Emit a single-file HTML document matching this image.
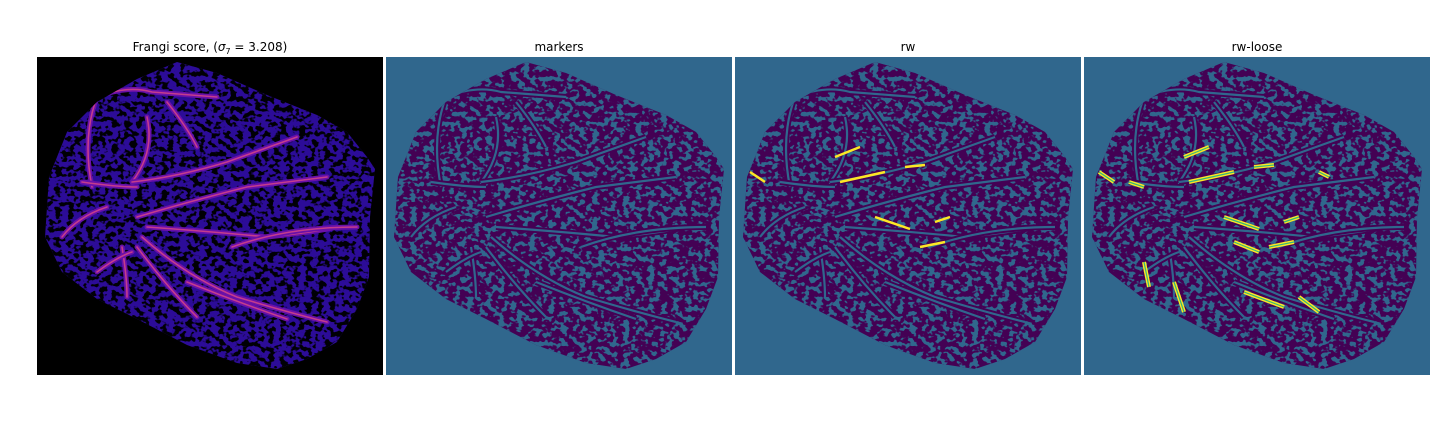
<!DOCTYPE html>
<html><head><meta charset="utf-8"><style>
html,body{margin:0;padding:0;background:#fff;width:1440px;height:432px;overflow:hidden}
svg{display:block;font-family:"DejaVu Sans","Liberation Sans",sans-serif}
</style></head><body>
<svg id="fig" width="1440" height="432" viewBox="0 0 1440 432" xmlns="http://www.w3.org/2000/svg">
<defs>
<filter id="spotsBlack" x="0" y="0" width="100%" height="100%" color-interpolation-filters="sRGB">
<feTurbulence type="fractalNoise" baseFrequency="0.16 0.2" numOctaves="2" seed="3" result="n"/>
<feColorMatrix in="n" type="matrix" values="0 0 0 0 0  0 0 0 0 0  0 0 0 0 0.02  12 0 0 0 -5.9"/>
</filter>
<filter id="spotsTeal" x="0" y="0" width="100%" height="100%" color-interpolation-filters="sRGB">
<feTurbulence type="fractalNoise" baseFrequency="0.16 0.2" numOctaves="2" seed="3" result="n"/>
<feColorMatrix in="n" type="matrix" values="0 0 0 0 0.19  0 0 0 0 0.404  0 0 0 0 0.553  -14 0 0 0 6.9"/>
</filter>
<clipPath id="blob"><path id="blobPath" d="M8,180 L12,120 L30,75 L60,45 L100,22 L140,5 L180,16 L230,38 L280,58 L310,75 L330,100 L338,112 L333,160 L332,220 L320,252 L300,285 L270,302 L240,312 L200,306 L150,288 L100,262 L60,242 L25,215 Z"/></clipPath>
</defs>
<g id="panels"></g>
</svg>
<script>
const titles=["markers","rw","rw-loose"];
const panelX=[37,386,735,1084];
const vessels=[
"M60,40 Q90,28 115,35 L180,40",
"M60,40 Q45,80 55,130",
"M110,60 Q118,95 95,125",
"M95,125 Q140,120 190,105 L260,80",
"M100,160 Q150,145 210,130 Q250,125 290,120",
"M110,170 Q180,175 230,180 Q280,175 300,170",
"M105,180 Q150,220 200,240 Q250,255 290,265",
"M100,190 Q130,230 160,260",
"M150,225 Q200,245 250,262",
"M45,125 Q80,130 100,130",
"M85,190 Q90,220 90,240",
"M70,150 Q40,160 25,180",
"M195,190 Q250,170 320,170",
"M130,45 Q150,70 160,90",
"M60,215 Q80,200 95,195"];
const yellow=["M45,35 L75,30","M100,100 L125,90","M15,115 L30,125","M105,125 L150,115","M170,110 L190,108","M140,160 L175,172","M200,165 L215,160","M185,190 L210,185","M150,185 L175,195","M60,205 L65,230","M90,225 L100,255","M160,235 L200,250","M215,240 L235,255","M45,125 L60,130","M235,115 L245,120"];
const ns="http://www.w3.org/2000/svg";
const root=document.getElementById('panels');
function mk(t,a,p){const e=document.createElementNS(ns,t);for(const k in a)e.setAttribute(k,a[k]);p.appendChild(e);return e;}
panelX.forEach((x,i)=>{
  const g=mk('g',{transform:`translate(${x},57)`},root);
  
  
  const bg=mk('rect',{x:0,y:0,width:346,height:318,fill:i==0?'#000':'#30678d'},g);
  
  
  const b=mk('g',{'clip-path':'url(#blob)'},g);
  
  
  mk('rect',{x:0,y:0,width:346,height:318,fill:i==0?'#2c0c98':'#440154'},b);
  mk('rect',{x:0,y:0,width:346,height:318,filter:i==0?'url(#spotsBlack)':'url(#spotsTeal)'},b);
  vessels.forEach(d=>{
    if(i==0){
      mk('path',{d,fill:'none',stroke:'#6a10a8',"stroke-width":5,"stroke-linecap":"round"},b);
      mk('path',{d,fill:'none',stroke:'#c43c8c',"stroke-width":1.6,"stroke-linecap":"round"},b);
    } else {
      mk('path',{d,fill:'none',stroke:'#440154',"stroke-width":6},b);
      mk('path',{d,fill:'none',stroke:'#30678d',"stroke-width":2.2},b);
    }
  });
  if(i>=2){
    const n=i==3?yellow.length:Math.ceil(yellow.length/2);
    yellow.slice(0,n).forEach(d=>{
      mk('path',{d,fill:'none',stroke:'#fde725',"stroke-width":i==3?4:2.5},b);
      if(i==3)mk('path',{d,fill:'none',stroke:'#35b779',"stroke-width":1.2},b);
    });
  }
  const t=mk('text',{x:173,y:-6,'text-anchor':'middle','font-size':12,fill:'#000'},g);
  
  
  if(i==0){t.innerHTML='Frangi score, (<tspan font-style="italic">σ</tspan><tspan font-size="8" dy="3">7</tspan><tspan dy="-3"> = 3.208)</tspan>';}
  else t.textContent=titles[i-1];
});
</script>
</body></html>
